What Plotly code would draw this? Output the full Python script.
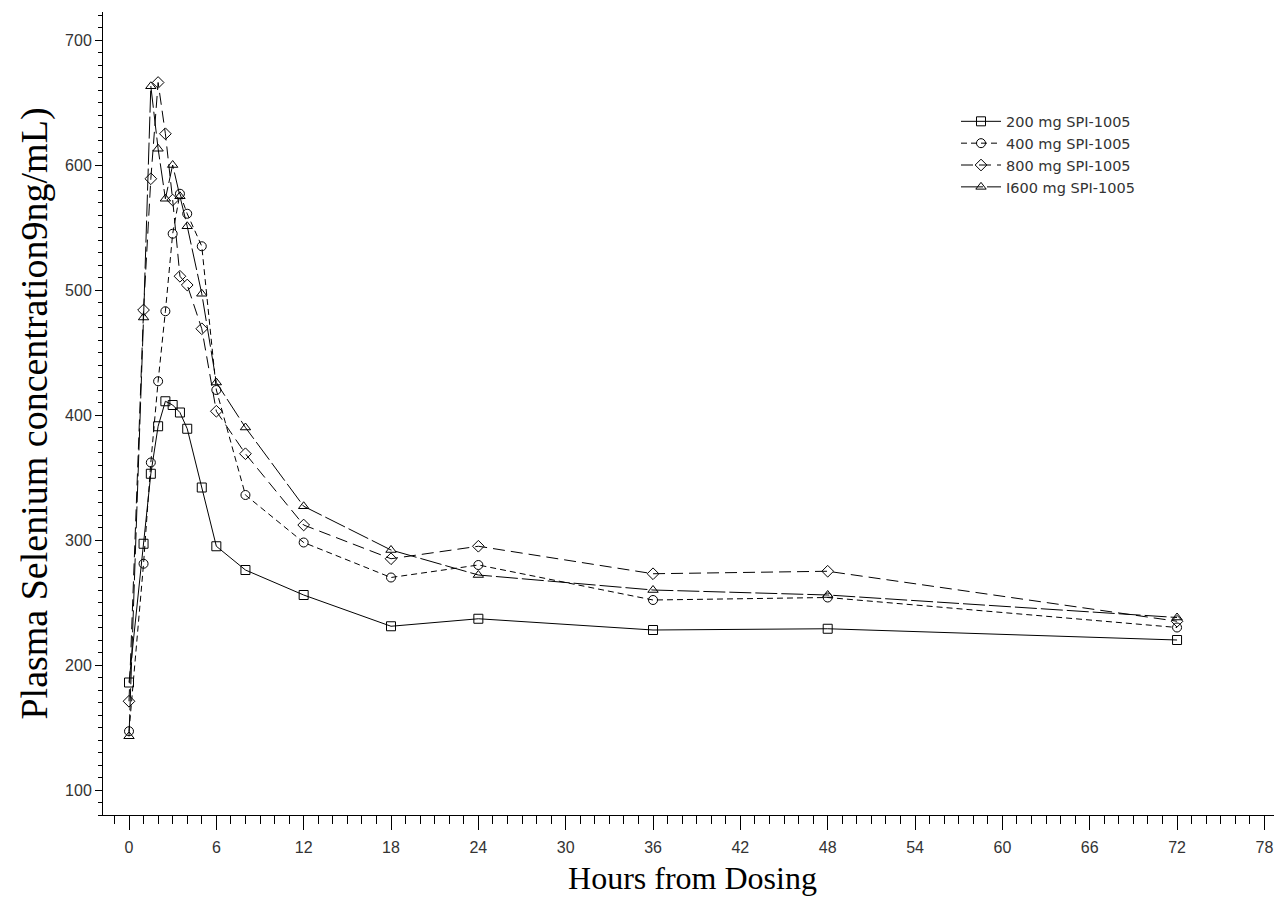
import plotly.graph_objects as go

hours = [0, 1, 1.5, 2, 2.5, 3, 3.5, 4, 5, 6, 8, 12, 18, 24, 36, 48, 72]
mg200 = [186, 297, 353, 391, 411, 408, 402, 389, 342, 295, 276, 256, 231, 237, 228, 229, 220]
mg400 = [147, 281, 362, 427, 483, 545, 577, 561, 535, 420, 336, 298, 270, 280, 252, 254, 230]
mg800 = [171, 484, 589, 666, 625, 572, 511, 504, 469, 403, 369, 312, 285, 295, 273, 275, 235]
mg1600 = [143, 478, 663, 613, 573, 600, 575, 551, 497, 426, 390, 327, 292, 272, 260, 256, 238]

names = ["200 mg SPI-1005", "400 mg SPI-1005", "800 mg SPI-1005", "I600 mg SPI-1005"]
series = [mg200, mg400, mg800, mg1600]
symbols = ["square-open", "circle-open", "diamond-open", "triangle-up-open"]
dashes = ["solid", "6px,4px", "12px,6px", "22px,4px"]
sizes = [9, 9, 9, 9]

fig = go.Figure()
for name, ys, sym, dash, sz in zip(names, series, symbols, dashes, sizes):
    fig.add_trace(go.Scatter(
        x=hours, y=ys, name=name, mode="lines+markers",
        line=dict(color="black", width=1, dash=dash),
        marker=dict(symbol=sym, size=sz, color="black", line=dict(width=1, color="black")),
    ))

tickfont = dict(family="Liberation Sans, Arial, sans-serif", size=16, color="#333333")

fig.update_layout(
    width=1274, height=888,
    margin=dict(l=95, r=0, t=4, b=81),
    paper_bgcolor="white", plot_bgcolor="white",
    showlegend=True,
    legend=dict(x=0.7235, y=0.8837, xanchor="left", yanchor="top",
                font=dict(family="DejaVu Sans, sans-serif", size=14.5, color="#333333"),
                bgcolor="rgba(0,0,0,0)", tracegroupgap=0, itemwidth=40),
)
fig.update_xaxes(
    range=[-1.786, 79.21], tickvals=list(range(0, 79, 6)),
    showgrid=False, zeroline=False, showline=True, linecolor="black", linewidth=1,
    ticks="outside", ticklen=14, tickcolor="black", tickwidth=1,
    minor=dict(dtick=1, tick0=0, ticks="outside", ticklen=8, tickcolor="black", tickwidth=1, showgrid=False),
    tickfont=tickfont, automargin=False, ticklabelstandoff=4,
    title=dict(text="Hours from Dosing",
               font=dict(family="Liberation Serif, Times New Roman, serif", size=32, color="black"),
               standoff=14),
)
fig.update_yaxes(
    range=[80, 722.4], tickvals=list(range(100, 701, 100)),
    showgrid=False, zeroline=False, showline=True, linecolor="black", linewidth=1,
    ticks="outside", ticklen=7, tickcolor="black", tickwidth=1,
    minor=dict(dtick=10, tick0=0, ticks="outside", ticklen=4, tickcolor="black", tickwidth=1, showgrid=False),
    tickfont=tickfont, automargin=False,
    title=dict(text="Plasma Selenium concentration9ng/mL)",
               font=dict(family="Liberation Serif, Times New Roman, serif", size=38, color="black"),
               standoff=5),
)

fig.write_html("out.html")
